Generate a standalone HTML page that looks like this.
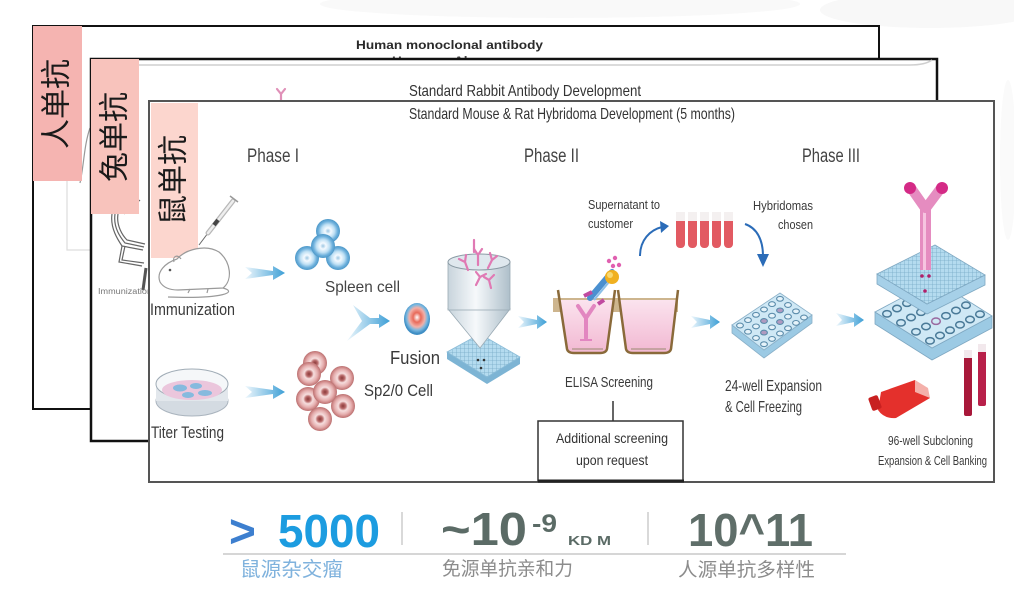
<!DOCTYPE html>
<html><head><meta charset="utf-8">
<style>
html,body{margin:0;padding:0;background:#fff;}
svg{display:block;}
text{font-family:"Liberation Sans","Noto Sans CJK SC",sans-serif;}
.cjk{font-family:"Liberation Sans","Noto Sans CJK SC",sans-serif;}
</style></head><body>
<svg width="1014" height="590" viewBox="0 0 1014 590" xmlns="http://www.w3.org/2000/svg">
<defs>
  <linearGradient id="arr" x1="0" x2="1" y1="0" y2="0">
    <stop offset="0" stop-color="#eef7fc"/><stop offset="1" stop-color="#3d9fd6"/>
  </linearGradient>
  <radialGradient id="bc" cx="0.5" cy="0.5" r="0.5">
    <stop offset="0" stop-color="#9cc6e2"/><stop offset="0.25" stop-color="#f4faff"/>
    <stop offset="0.55" stop-color="#bfe0f4"/><stop offset="0.8" stop-color="#6db0dc"/>
    <stop offset="1" stop-color="#4d98c8"/>
  </radialGradient>
  <radialGradient id="rc" cx="0.5" cy="0.5" r="0.5">
    <stop offset="0" stop-color="#8c3a3a"/><stop offset="0.22" stop-color="#b86a6a"/>
    <stop offset="0.4" stop-color="#f6dede"/><stop offset="0.7" stop-color="#e6b0b0"/>
    <stop offset="0.9" stop-color="#cc8484"/><stop offset="1" stop-color="#b87070"/>
  </radialGradient>
  <radialGradient id="fc" cx="0.5" cy="0.45" r="0.5">
    <stop offset="0" stop-color="#fff"/><stop offset="0.3" stop-color="#e86a5a"/>
    <stop offset="0.6" stop-color="#f2b0a8"/><stop offset="0.8" stop-color="#7ab8e0"/>
    <stop offset="1" stop-color="#3f8ec4"/>
  </radialGradient>
  <linearGradient id="cyl" x1="0" x2="1">
    <stop offset="0" stop-color="#c8d4dc"/><stop offset="0.45" stop-color="#f6f9fb"/><stop offset="1" stop-color="#aebfca"/>
  </linearGradient>
  <pattern id="grid" width="4" height="4" patternUnits="userSpaceOnUse">
    <rect width="4" height="4" fill="#b4dbef"/>
    <path d="M0,0 L4,0 M0,0 L0,4" stroke="#78acc8" stroke-width="0.8"/>
  </pattern>
  <linearGradient id="well" x1="0" y1="0" x2="0" y2="1">
    <stop offset="0" stop-color="#fbe3ee"/><stop offset="1" stop-color="#f2b8d2"/>
  </linearGradient>
</defs>

<!-- faint background -->
<ellipse cx="560" cy="4" rx="240" ry="14" fill="#f9f9f9"/>
<ellipse cx="930" cy="10" rx="110" ry="18" fill="#f8f8f8"/>
<ellipse cx="1008" cy="160" rx="8" ry="80" fill="#fafafa"/>

<!-- ===== Frame 1 ===== -->
<rect x="33" y="26" width="846" height="383" fill="#fff" stroke="#111" stroke-width="2"/>
<text x="356" y="49" font-size="11.5" font-weight="bold" fill="#2a2a2a" textLength="187" lengthAdjust="spacingAndGlyphs">Human monoclonal antibody</text>
<text x="392" y="64" font-size="11" font-weight="bold" fill="#444" textLength="80" lengthAdjust="spacingAndGlyphs">Human mAb</text>
<path d="M67,175 L67,250 L91,250" stroke="#dddddd" stroke-width="1.2" fill="none"/>
<path d="M90,128 C84,145 84,165 80,183" stroke="#999" stroke-width="1.2" fill="none"/>
<rect x="33" y="26" width="49" height="155" fill="#f5b4b1"/>
<text class="cjk" transform="translate(57,104) rotate(-90)" font-size="30" text-anchor="middle" dominant-baseline="central" fill="#1a1a1a">人单抗</text>

<!-- ===== Frame 2 ===== -->
<rect x="91" y="59" width="846" height="382" fill="#fff" stroke="#111" stroke-width="2.5"/>
<path d="M95,65 L910,65 Q925,65 932,60" stroke="#cfcfcf" stroke-width="1.5" fill="none"/>
<text x="409" y="96" font-size="16" fill="#333" textLength="232" lengthAdjust="spacingAndGlyphs">Standard Rabbit Antibody Development</text>
<g stroke="#e090b8" stroke-width="2.2" fill="none" stroke-linecap="round">
  <path d="M281,100 L281,94 L277,89 M281,94 L285,89"/>
</g>
<!-- rabbit sketch remnants -->
<g stroke="#666" stroke-width="1.2" fill="none">
  <path d="M112,214 C110,228 118,240 122,246 L143,250"/>
  <path d="M115,214 C113,228 121,238 125,243 L144,247"/>
  <path d="M118,214 C116,226 123,236 127,240 L145,244"/>
  <path d="M122,246 L119,262 L142,266"/>
  <path d="M125,246 L122,260 L144,263"/>
  <path d="M140,200 C135,205 128,208 124,214"/>
</g>
<path d="M146,268 L143,290" stroke="#555" stroke-width="3"/>
<text x="98" y="294" font-size="8" fill="#777" textLength="54" lengthAdjust="spacingAndGlyphs">Immunization</text>
<rect x="91" y="59" width="48" height="155" fill="#f8c3bc"/>
<text class="cjk" transform="translate(115,137) rotate(-90)" font-size="30" text-anchor="middle" dominant-baseline="central" fill="#1a1a1a">兔单抗</text>

<!-- ===== Frame 3 ===== -->
<rect x="149" y="101" width="845" height="381" fill="#fff" stroke="#555" stroke-width="2"/>
<text x="409" y="119" font-size="16" fill="#333" textLength="326" lengthAdjust="spacingAndGlyphs">Standard Mouse &amp; Rat Hybridoma Development (5 months)</text>
<rect x="151" y="103" width="47" height="155" fill="#fcd6ce"/>
<text class="cjk" transform="translate(174,180) rotate(-90)" font-size="30" text-anchor="middle" dominant-baseline="central" fill="#1a1a1a">鼠单抗</text>

<!-- Phase labels -->
<text x="247" y="162" font-size="19" fill="#444" textLength="52" lengthAdjust="spacingAndGlyphs">Phase I</text>
<text x="524" y="162" font-size="19" fill="#444" textLength="55" lengthAdjust="spacingAndGlyphs">Phase II</text>
<text x="802" y="162" font-size="19" fill="#444" textLength="58" lengthAdjust="spacingAndGlyphs">Phase III</text>

<!-- Syringe -->
<line x1="199" y1="245" x2="208" y2="233" stroke="#666" stroke-width="1"/>
<line x1="208" y1="233" x2="233" y2="201" stroke="#b8b8b8" stroke-width="5" stroke-linecap="round"/>
<line x1="208" y1="233" x2="233" y2="201" stroke="#eee" stroke-width="2.5" stroke-linecap="round"/>
<line x1="214" y1="225" x2="218" y2="220" stroke="#444" stroke-width="4"/>
<line x1="230" y1="196" x2="238" y2="202" stroke="#999" stroke-width="1.5"/>
<!-- Mouse -->
<g stroke="#9a9a9a" stroke-width="1.2" fill="none">
  <path d="M160,282 C156,272 165,263 177,259 C186,249 206,244 219,252 C231,262 233,280 223,288 L178,290 C169,290 163,287 160,282 Z" fill="#fff"/>
  <path d="M174,262 C172,256 178,254 181,259"/>
  <path d="M223,288 C238,292 224,299 168,297"/>
  <path d="M190,289 L188,293 M208,289 L207,293"/>
</g>
<circle cx="170" cy="270" r="1.3" fill="#555"/>
<text x="150" y="315" font-size="17" fill="#3a3a3a" textLength="85" lengthAdjust="spacingAndGlyphs">Immunization</text>

<!-- Arrows -->
<path d="M245,267 L273,271 L273,266 L285,273 L273,280 L273,275 L245,279 L252,273 Z" fill="url(#arr)"/>
<path d="M245,386 L273,390 L273,385 L285,392 L273,399 L273,394 L245,398 L252,392 Z" fill="url(#arr)"/>
<path d="M353,305 L370,318 L379,318 L379,314 L390,321 L379,328 L379,324 L370,324 L347,341 L362,321 Z" fill="url(#arr)"/>
<path d="M518,316 L537,320 L537,315 L547,322 L537,329 L537,324 L518,328 L524,322 Z" fill="url(#arr)"/>
<path d="M691,316 L710,320 L710,315 L720,322 L710,329 L710,324 L691,328 L697,322 Z" fill="url(#arr)"/>
<path d="M836,313 L854,318 L854,313 L864,320 L854,327 L854,322 L836,326 L842,320 Z" fill="url(#arr)"/>

<!-- Spleen cells -->
<circle cx="328" cy="231" r="12" fill="url(#bc)"/>
<circle cx="307" cy="258" r="12" fill="url(#bc)"/>
<circle cx="338" cy="258" r="12" fill="url(#bc)"/>
<circle cx="323" cy="246" r="12" fill="url(#bc)"/>
<text x="325" y="292" font-size="16" fill="#444" textLength="75" lengthAdjust="spacingAndGlyphs">Spleen cell</text>

<!-- Fusion cell -->
<ellipse cx="417" cy="319" rx="13" ry="16" fill="url(#fc)"/>
<text x="390" y="364" font-size="18" fill="#3a3a3a" textLength="50" lengthAdjust="spacingAndGlyphs">Fusion</text>

<!-- Sp2/0 cells -->
<circle cx="315" cy="363" r="12" fill="url(#rc)"/>
<circle cx="309" cy="374" r="12" fill="url(#rc)"/>
<circle cx="342" cy="378" r="12" fill="url(#rc)"/>
<circle cx="308" cy="399" r="12" fill="url(#rc)"/>
<circle cx="343" cy="406" r="12" fill="url(#rc)"/>
<circle cx="325" cy="392" r="12" fill="url(#rc)"/>
<circle cx="320" cy="419" r="12" fill="url(#rc)"/>
<text x="364" y="396" font-size="17" fill="#3a3a3a" textLength="69" lengthAdjust="spacingAndGlyphs">Sp2/0 Cell</text>

<!-- Petri dish -->
<ellipse cx="192" cy="401" rx="36" ry="15" fill="#d4dbe2" stroke="#aab4be"/>
<rect x="156" y="384" width="72" height="17" fill="#e2e7ec"/>
<ellipse cx="192" cy="384" rx="36" ry="15" fill="#f5f7f9" stroke="#a0acb6"/>
<ellipse cx="192" cy="390" rx="30" ry="10" fill="#ebc6dc"/>
<ellipse cx="180" cy="388" rx="7" ry="3.5" fill="#86bade"/>
<ellipse cx="196" cy="386" rx="6" ry="3" fill="#86bade"/>
<ellipse cx="205" cy="393" rx="7" ry="3" fill="#86bade"/>
<ellipse cx="188" cy="395" rx="6" ry="3" fill="#86bade"/>
<text x="151" y="438" font-size="17" fill="#3a3a3a" textLength="73" lengthAdjust="spacingAndGlyphs">Titer Testing</text>

<!-- Funnel + plate -->
<polygon points="447,352 447,359 487,384 520,364 520,357 487,377" fill="#7db4d4"/>
<polygon points="447,352 480,334 520,357 487,377" fill="url(#grid)" stroke="#8abcd8" stroke-width="0.8"/>
<circle cx="478" cy="360" r="1.3" fill="#333"/><circle cx="484" cy="360" r="1.3" fill="#333"/><circle cx="481" cy="368" r="1.3" fill="#333"/>
<path d="M448,309 L510,309 L480,348 Z" fill="url(#cyl)" stroke="#9aaab4" stroke-width="0.8"/>
<rect x="448" y="262" width="62" height="48" fill="url(#cyl)" stroke="#9aaab4" stroke-width="0.8"/>
<ellipse cx="479" cy="262" rx="31" ry="8" fill="#dfe8ee" stroke="#8a9aa4" stroke-width="1"/>
<g stroke="#e07ab4" stroke-width="2.2" fill="none" stroke-linecap="round">
  <path d="M478,265 L478,255 L474,249 M478,255 L482,249"/>
  <path d="M488,268 L492,260 L490,253 M492,260 L497,256"/>
  <path d="M468,270 L465,262 L459,259 M465,262 L466,255"/>
  <path d="M476,285 L480,277 L476,272 M480,277 L486,274"/>
  <path d="M491,288 L489,280 L484,277 M489,280 L494,275"/>
  <path d="M474,240 L474,252"/>
</g>

<!-- ELISA wells -->
<rect x="553" y="298" width="125" height="14" fill="#cdb58e"/>
<path d="M560,300 L567,349 Q568,353 574,353 L600,353 Q606,353 607,349 L613,300 Z" fill="url(#well)"/>
<path d="M620,300 L626,349 Q627,353 633,353 L664,353 Q670,353 671,349 L676,300 Z" fill="url(#well)"/>
<path d="M558,290 L567,349 Q568,353 574,353 L600,353 Q606,353 607,349 L615,290" fill="none" stroke="#8a6a3a" stroke-width="2.5"/>
<path d="M618,290 L626,349 Q627,353 633,353 L664,353 Q670,353 671,349 L678,290" fill="none" stroke="#8a6a3a" stroke-width="2.5"/>
<line x1="572" y1="349" x2="603" y2="349" stroke="#9a8a70" stroke-width="1"/>
<line x1="631" y1="349" x2="666" y2="349" stroke="#9a8a70" stroke-width="1"/>
<g stroke="#e286c0" stroke-width="4" fill="none" stroke-linecap="round">
  <path d="M586,338 L586,318 L578,306 M586,318 L594,306"/>
</g>
<g stroke="#e286c0" stroke-width="2" fill="none">
  <path d="M580,340 L592,340"/>
</g>
<path d="M590,298 L612,272" stroke="#4a90d0" stroke-width="6" stroke-linecap="round"/>
<path d="M594,300 L614,276" stroke="#8cc0e8" stroke-width="2"/>
<path d="M584,296 L592,292" stroke="#c04aa0" stroke-width="4"/>
<path d="M598,304 L604,300" stroke="#c04aa0" stroke-width="4"/>
<circle cx="612" cy="277" r="7" fill="#f0b020"/>
<circle cx="610" cy="275" r="3" fill="#f8d870"/>
<circle cx="609" cy="261" r="2.2" fill="#e060b0"/><circle cx="615" cy="258" r="2.2" fill="#e060b0"/>
<circle cx="619" cy="265" r="2.2" fill="#e060b0"/><circle cx="613" cy="266" r="2.2" fill="#e060b0"/>
<text x="565" y="387" font-size="15" fill="#3a3a3a" textLength="88" lengthAdjust="spacingAndGlyphs">ELISA Screening</text>

<!-- Supernatant -->
<text x="588" y="209" font-size="13" fill="#3a3a3a" textLength="72" lengthAdjust="spacingAndGlyphs">Supernatant to</text>
<text x="588" y="228" font-size="13" fill="#3a3a3a" textLength="45" lengthAdjust="spacingAndGlyphs">customer</text>
<path d="M640,256 C640,240 650,230 662,227" stroke="#2b6cb8" stroke-width="2" fill="none"/>
<path d="M660,221 L669,226 L661,233 Z" fill="#2b6cb8"/>
<!-- tubes -->
<g>
  <rect x="676" y="212" width="9" height="36" rx="4" fill="#e25a62"/>
  <rect x="688" y="212" width="9" height="36" rx="4" fill="#e25a62"/>
  <rect x="700" y="212" width="9" height="36" rx="4" fill="#e25a62"/>
  <rect x="712" y="212" width="9" height="36" rx="4" fill="#e25a62"/>
  <rect x="724" y="212" width="9" height="36" rx="4" fill="#e25a62"/>
  <g fill="#f4f0f0">
    <rect x="676" y="212" width="9" height="9"/><rect x="688" y="212" width="9" height="9"/>
    <rect x="700" y="212" width="9" height="9"/><rect x="712" y="212" width="9" height="9"/>
    <rect x="724" y="212" width="9" height="9"/>
  </g>
</g>
<text x="753" y="210" font-size="13" fill="#3a3a3a" textLength="60" lengthAdjust="spacingAndGlyphs">Hybridomas</text>
<text x="778" y="229" font-size="13" fill="#3a3a3a" textLength="35" lengthAdjust="spacingAndGlyphs">chosen</text>
<path d="M745,224 C757,228 763,240 763,256" stroke="#2b6cb8" stroke-width="2" fill="none"/>
<path d="M757,254 L769,254 L763,267 Z" fill="#2b6cb8"/>

<!-- Additional screening box -->
<line x1="613" y1="401" x2="613" y2="421" stroke="#333" stroke-width="1.5"/>
<rect x="538" y="421" width="145" height="60" fill="#fff" stroke="#333" stroke-width="1.5"/>
<line x1="538" y1="481" x2="684" y2="481" stroke="#222" stroke-width="3"/>
<text x="556" y="443" font-size="14" fill="#333" textLength="112" lengthAdjust="spacingAndGlyphs">Additional screening</text>
<text x="576" y="465" font-size="14" fill="#333" textLength="72" lengthAdjust="spacingAndGlyphs">upon request</text>

<!-- 24-well plate -->
<polygon points="732,325 732,333 764,358 812,323 812,315 764,350" fill="#9ccae4" stroke="#8ab0c8" stroke-width="0.8"/>
<polygon points="732,325 780,293 812,315 764,350" fill="#cfe8f5" stroke="#8ab0c8" stroke-width="0.8"/>
<g fill="#e6f3fa" stroke="#5b8cab" stroke-width="1.1">
  <ellipse cx="740" cy="325.5" rx="3.4" ry="2.4"/><ellipse cx="748" cy="320.1" rx="3.4" ry="2.4"/><ellipse cx="756" cy="314.8" rx="3.4" ry="2.4"/><ellipse cx="764" cy="309.5" rx="3.4" ry="2.4"/><ellipse cx="772" cy="304.1" rx="3.4" ry="2.4"/><ellipse cx="780" cy="298.8" rx="3.4" ry="2.4"/>
  <ellipse cx="748" cy="331.7" rx="3.4" ry="2.4"/><ellipse cx="756" cy="326.4" rx="3.4" ry="2.4"/><ellipse cx="764" cy="321" rx="3.4" ry="2.4" fill="#b09ac0"/><ellipse cx="772" cy="315.7" rx="3.4" ry="2.4"/><ellipse cx="780" cy="310.4" rx="3.4" ry="2.4" fill="#b09ac0"/><ellipse cx="788" cy="305" rx="3.4" ry="2.4"/>
  <ellipse cx="756" cy="338" rx="3.4" ry="2.4"/><ellipse cx="764" cy="332.6" rx="3.4" ry="2.4" fill="#b09ac0"/><ellipse cx="772" cy="327.3" rx="3.4" ry="2.4"/><ellipse cx="780" cy="322" rx="3.4" ry="2.4" fill="#b09ac0"/><ellipse cx="788" cy="316.6" rx="3.4" ry="2.4"/><ellipse cx="796" cy="311.3" rx="3.4" ry="2.4"/>
  <ellipse cx="764" cy="344.2" rx="3.4" ry="2.4"/><ellipse cx="772" cy="338.9" rx="3.4" ry="2.4"/><ellipse cx="780" cy="333.5" rx="3.4" ry="2.4"/><ellipse cx="788" cy="328.2" rx="3.4" ry="2.4"/><ellipse cx="796" cy="322.9" rx="3.4" ry="2.4"/><ellipse cx="804" cy="317.5" rx="3.4" ry="2.4"/>
</g>
<text x="725" y="391" font-size="16" fill="#3a3a3a" textLength="97" lengthAdjust="spacingAndGlyphs">24-well Expansion</text>
<text x="725" y="412" font-size="16" fill="#3a3a3a" textLength="77" lengthAdjust="spacingAndGlyphs">&amp; Cell Freezing</text>

<!-- 96-well plates -->
<polygon points="875,312 875,324 932,360 992,328 992,316 932,348" fill="#9ccae4" stroke="#7fa8c2" stroke-width="0.8"/>
<polygon points="875,312 935,280 992,316 932,348" fill="#cfe8f5" stroke="#7fa8c2" stroke-width="0.8"/>
<g fill="none" stroke="#4a7a98" stroke-width="1.5">
  <ellipse cx="887" cy="313.8" rx="4.3" ry="3.2"/><ellipse cx="897" cy="308.5" rx="4.3" ry="3.2"/><ellipse cx="907" cy="303.2" rx="4.3" ry="3.2"/><ellipse cx="917" cy="297.8" rx="4.3" ry="3.2"/><ellipse cx="927" cy="292.5" rx="4.3" ry="3.2"/><ellipse cx="937" cy="287.2" rx="4.3" ry="3.2"/>
  <ellipse cx="901" cy="322.8" rx="4.3" ry="3.2"/><ellipse cx="911" cy="317.5" rx="4.3" ry="3.2"/><ellipse cx="921" cy="312.2" rx="4.3" ry="3.2"/><ellipse cx="931" cy="306.8" rx="4.3" ry="3.2"/><ellipse cx="941" cy="301.5" rx="4.3" ry="3.2"/><ellipse cx="951" cy="296.2" rx="4.3" ry="3.2"/>
  <ellipse cx="916" cy="331.8" rx="4.3" ry="3.2"/><ellipse cx="926" cy="326.5" rx="4.3" ry="3.2"/><ellipse cx="936" cy="321.2" rx="4.3" ry="3.2" stroke="#9a6aa0"/><ellipse cx="946" cy="315.8" rx="4.3" ry="3.2"/><ellipse cx="956" cy="310.5" rx="4.3" ry="3.2"/><ellipse cx="966" cy="305.2" rx="4.3" ry="3.2"/>
  <ellipse cx="930" cy="340.8" rx="4.3" ry="3.2"/><ellipse cx="940" cy="335.5" rx="4.3" ry="3.2"/><ellipse cx="950" cy="330.2" rx="4.3" ry="3.2"/><ellipse cx="960" cy="324.8" rx="4.3" ry="3.2"/><ellipse cx="970" cy="319.5" rx="4.3" ry="3.2"/><ellipse cx="980" cy="314.2" rx="4.3" ry="3.2"/>
</g>
<polygon points="877,274 877,284 927,314 985,285 985,275 927,304" fill="#a6d0e8" stroke="#7fa8c2" stroke-width="0.8"/>
<polygon points="877,274 935,245 985,275 927,304" fill="url(#grid)" stroke="#7fa8c2" stroke-width="0.8"/>
<!-- antibody -->
<rect x="920" y="205" width="11" height="65" fill="#e58cc0"/>
<rect x="923" y="205" width="3" height="65" fill="#f6c4e0"/>
<path d="M925,208 L911,188" stroke="#e58cc0" stroke-width="10" stroke-linecap="round"/>
<path d="M926,208 L941,188" stroke="#e58cc0" stroke-width="10" stroke-linecap="round"/>
<circle cx="910" cy="188" r="6" fill="#d42a86"/>
<circle cx="942" cy="188" r="6" fill="#d42a86"/>
<circle cx="922" cy="276" r="1.8" fill="#b0206a"/><circle cx="929" cy="276" r="1.8" fill="#b0206a"/><circle cx="925" cy="291" r="1.8" fill="#b0206a"/>
<!-- flask -->
<path d="M881,392 L915,380 L930,398 L896,418 Q884,419 878,410 Z" fill="#e4302c"/>
<path d="M915,380 L928,388 L930,398 L915,392 Z" fill="#f4b0aa"/>
<rect x="870" y="396" width="10" height="14" rx="2" fill="#c82020" transform="rotate(-20 875 403)"/>
<!-- cryovials -->
<rect x="964" y="352" width="8" height="64" rx="2" fill="#a8183a"/>
<rect x="964" y="350" width="8" height="8" fill="#f2e8ec"/>
<rect x="978" y="346" width="8" height="60" rx="2" fill="#b8204a"/>
<rect x="978" y="344" width="8" height="8" fill="#f2e8ec"/>
<text x="888" y="445" font-size="13" fill="#3a3a3a" textLength="85" lengthAdjust="spacingAndGlyphs">96-well Subcloning</text>
<text x="878" y="465" font-size="13" fill="#3a3a3a" textLength="109" lengthAdjust="spacingAndGlyphs">Expansion &amp; Cell Banking</text>

<!-- ===== Bottom stats ===== -->
<text x="229" y="547" font-size="46" font-weight="bold" fill="#3d7fcf">&gt;</text>
<text x="278" y="547" font-size="46" font-weight="bold" fill="#1c9ce0" textLength="102" lengthAdjust="spacingAndGlyphs">5000</text>
<line x1="402" y1="512" x2="402" y2="545" stroke="#cccccc" stroke-width="1.5"/>
<text x="441" y="545" font-size="46" font-weight="bold" fill="#5b6b66" textLength="86" lengthAdjust="spacingAndGlyphs">~10</text>
<text x="532" y="532" font-size="25" font-weight="bold" fill="#5b6b66" textLength="25" lengthAdjust="spacingAndGlyphs">-9</text>
<text x="568" y="545" font-size="13" font-weight="bold" fill="#5b6b66" textLength="43" lengthAdjust="spacingAndGlyphs">KD M</text>
<line x1="648" y1="512" x2="648" y2="545" stroke="#cccccc" stroke-width="1.5"/>
<text x="688" y="546" font-size="46" font-weight="bold" fill="#5f6e69" textLength="125" lengthAdjust="spacingAndGlyphs">10^11</text>
<line x1="223" y1="554" x2="846" y2="554" stroke="#c8c8c8" stroke-width="1.5"/>
<text class="cjk" x="240" y="576" font-size="20" fill="#7fb2dd" textLength="103" lengthAdjust="spacingAndGlyphs">鼠源杂交瘤</text>
<text class="cjk" x="442" y="575" font-size="19" fill="#8c8c8c" textLength="131" lengthAdjust="spacingAndGlyphs">免源单抗亲和力</text>
<text class="cjk" x="678" y="576" font-size="19" fill="#8c8c8c" textLength="137" lengthAdjust="spacingAndGlyphs">人源单抗多样性</text>
</svg>
</body></html>
